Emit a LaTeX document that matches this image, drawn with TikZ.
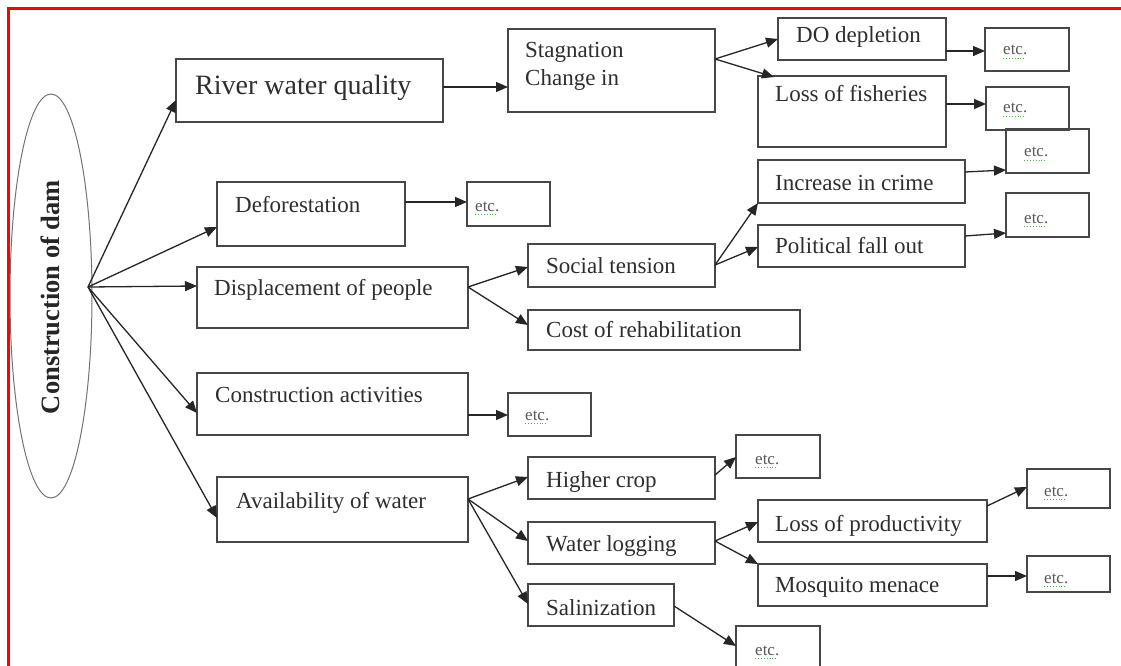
\documentclass[tikz,border=0pt]{standalone}
\usepackage{fontspec}
\setmainfont{Liberation Serif}
\usetikzlibrary{arrows.meta,shapes.geometric}
\newcommand\bx[5]{\node[box, minimum width={(#4-#2)*1pt}, minimum height={(#5-#3)*1pt}] (#1) at (#2,-#3) {};}
\newcommand\etcnode[3]{\node[etc] (#1) at (#2,-#3) {etc.};
  \draw[squig] ([yshift=-3pt]#1.base west) -- ([yshift=-3pt,xshift=-4pt]#1.base east);}
\begin{document}
\begin{tikzpicture}[x=1pt,y=1pt,
  box/.style={draw=black!72, line width=1.7pt, inner sep=0pt, outer sep=0pt, anchor=north west},
  lbl/.style={anchor=base west, inner sep=0pt, text=black!82, font=\fontsize{23}{28}\selectfont},
  big/.style={lbl, font=\fontsize{28}{32}\selectfont},
  etc/.style={lbl, text=black!65, font=\fontsize{17}{20}\selectfont},
  squig/.style={draw=green!55!black, line width=0.9pt, dotted, opacity=0.7},
  arr/.style={draw=black!85, line width=1.3pt, -{Triangle[length=12pt,width=10pt]}}]
\useasboundingbox (0,0) rectangle (1121,-666);
\fill[white] (0,0) rectangle (1121,-666);
\draw[red, line width=3pt] (8,-668) -- (8,-9) -- (1123,-9);

% root
\node[draw=black!55, line width=1pt, ellipse, minimum width=82pt, minimum height=404pt, inner sep=0pt] (dam) at (51,-296) {};
\node[rotate=90, inner sep=0pt, text=black!85, font=\bfseries\fontsize{26.5}{30}\selectfont] (damt) at (50,-297) {Construction of dam};
\coordinate (src) at (88,-287);

% boxes
\bx{river}{176}{59}{443}{122}
\bx{stag}{508}{29}{715}{112}
\bx{do}{778}{18}{946}{60}
\bx{e1}{985}{28}{1069}{71}
\bx{loss}{758}{76}{946}{147}
\bx{e2}{986}{87}{1069}{130}
\bx{e3}{1006}{129}{1089}{173}
\bx{inc}{758}{160}{965}{203}
\bx{pol}{758}{225}{965}{267}
\bx{e4}{1006}{193}{1089}{237}
\bx{soc}{528}{244}{715}{287}
\bx{cost}{528}{310}{800}{350}
\bx{def}{217}{182}{405}{246}
\bx{ed}{467}{182}{550}{226}
\bx{disp}{197}{267}{468}{328}
\bx{con}{197}{373}{468}{435}
\bx{ec}{508}{393}{591}{436}
\bx{av}{217}{477}{468}{542}
\bx{hc}{528}{457}{715}{499}
\bx{ehc}{736}{435}{820}{478}
\bx{wl}{528}{522}{715}{564}
\bx{sal}{528}{584}{674}{626}
\bx{es}{736}{626}{820}{676}
\bx{lp}{758}{500}{987}{542}
\bx{mm}{758}{564}{987}{606}
\bx{elp}{1027}{469}{1110}{508}
\bx{emm}{1027}{556}{1110}{592}

% labels
\node[big] (rivert) at (195,-95) {River water quality};
\node[lbl] (stagt1) at (525,-58) {Stagnation};
\node[lbl] (stagt2) at (525,-86) {Change in};
\node[lbl] (dot) at (796,-43) {DO depletion};
\etcnode{e1t}{1003}{55}
\node[lbl] (losst) at (775,-102) {Loss of fisheries};
\etcnode{e2t}{1003}{113}
\etcnode{e3t}{1024}{157}
\node[lbl] (inct) at (775,-190) {Increase in crime};
\node[lbl] (polt) at (775,-253) {Political fall out};
\etcnode{e4t}{1024}{223}
\node[lbl] (soct) at (546,-273) {Social tension};
\node[lbl] (costt) at (546,-337) {Cost of rehabilitation};
\node[lbl] (deft) at (235,-212) {Deforestation};
\etcnode{edt}{475}{211}
\node[lbl] (dispt) at (214,-295) {Displacement of people};
\node[lbl] (cont) at (215,-402) {Construction activities};
\etcnode{ect}{525}{420}
\node[lbl] (avt) at (236,-508) {Availability of water};
\node[lbl] (hct) at (546,-487) {Higher crop};
\etcnode{ehct}{755}{464}
\node[lbl] (wlt) at (546,-551) {Water logging};
\node[lbl] (salt) at (546,-615) {Salinization};
\etcnode{est}{755}{655}
\node[lbl] (lpt) at (775,-531) {Loss of productivity};
\node[lbl] (mmt) at (775,-592) {Mosquito menace};
\etcnode{elpt}{1044}{496}
\etcnode{emmt}{1044}{583}

% connectors from root
\draw[arr] (src) -- ([yshift=-41pt]river.north west);
\draw[arr] (src) -- ([yshift=-45pt]def.north west);
\draw[arr] (src) -- ([yshift=-19pt]disp.north west);
\draw[arr] (src) -- ([yshift=-40pt]con.north west);
\draw[arr] (src) -- ([yshift=-41pt]av.north west);

% river branch
\draw[arr] ([yshift=-28pt]river.north east) -- ([yshift=-58pt]stag.north west);
\draw[arr] ([yshift=-30pt]stag.north east) -- ([yshift=-21pt]do.north west);
\draw[arr] ([yshift=-30pt]stag.north east) -- ([xshift=16pt,yshift=-1pt]loss.north west);
\draw[arr] ([yshift=-33pt]do.north east) -- ([yshift=-23pt]e1.north west);
\draw[arr] ([yshift=-28pt]loss.north east) -- ([yshift=-17pt]e2.north west);

% deforestation
\draw[arr] ([yshift=-20pt]def.north east) -- ([yshift=-20pt]ed.north west);

% displacement branch
\draw[arr] ([yshift=-20pt]disp.north east) -- ([yshift=-23pt]soc.north west);
\draw[arr] ([yshift=-20pt]disp.north east) -- ([yshift=-15pt]cost.north west);
\draw[arr] ([yshift=-21pt]soc.north east) -- (inc.south west);
\draw[arr] ([yshift=-21pt]soc.north east) -- ([yshift=-22pt]pol.north west);
\draw[arr] ([yshift=-12pt]inc.north east) -- ([yshift=-41pt]e3.north west);
\draw[arr] ([yshift=-11pt]pol.north east) -- ([yshift=-40pt]e4.north west);

% construction
\draw[arr] ([yshift=-42pt]con.north east) -- ([yshift=-22pt]ec.north west);

% availability branch
\draw[arr] ([yshift=-22pt]av.north east) -- ([yshift=-20pt]hc.north west);
\draw[arr] ([yshift=-22pt]av.north east) -- ([yshift=-19pt]wl.north west);
\draw[arr] ([yshift=-22pt]av.north east) -- ([yshift=-20pt]sal.north west);
\draw[arr] ([yshift=-18pt]hc.north east) -- ([yshift=-22pt]ehc.north west);
\draw[arr] ([yshift=-19pt]wl.north east) -- ([yshift=-22pt]lp.north west);
\draw[arr] ([yshift=-19pt]wl.north east) -- (mm.north west);
\draw[arr] ([yshift=-22pt]sal.north east) -- ([yshift=-20pt]es.north west);
\draw[arr] ([yshift=-6pt]lp.north east) -- ([yshift=-18pt]elp.north west);
\draw[arr] ([yshift=-12pt]mm.north east) -- ([yshift=-20pt]emm.north west);
\end{tikzpicture}
\end{document}
